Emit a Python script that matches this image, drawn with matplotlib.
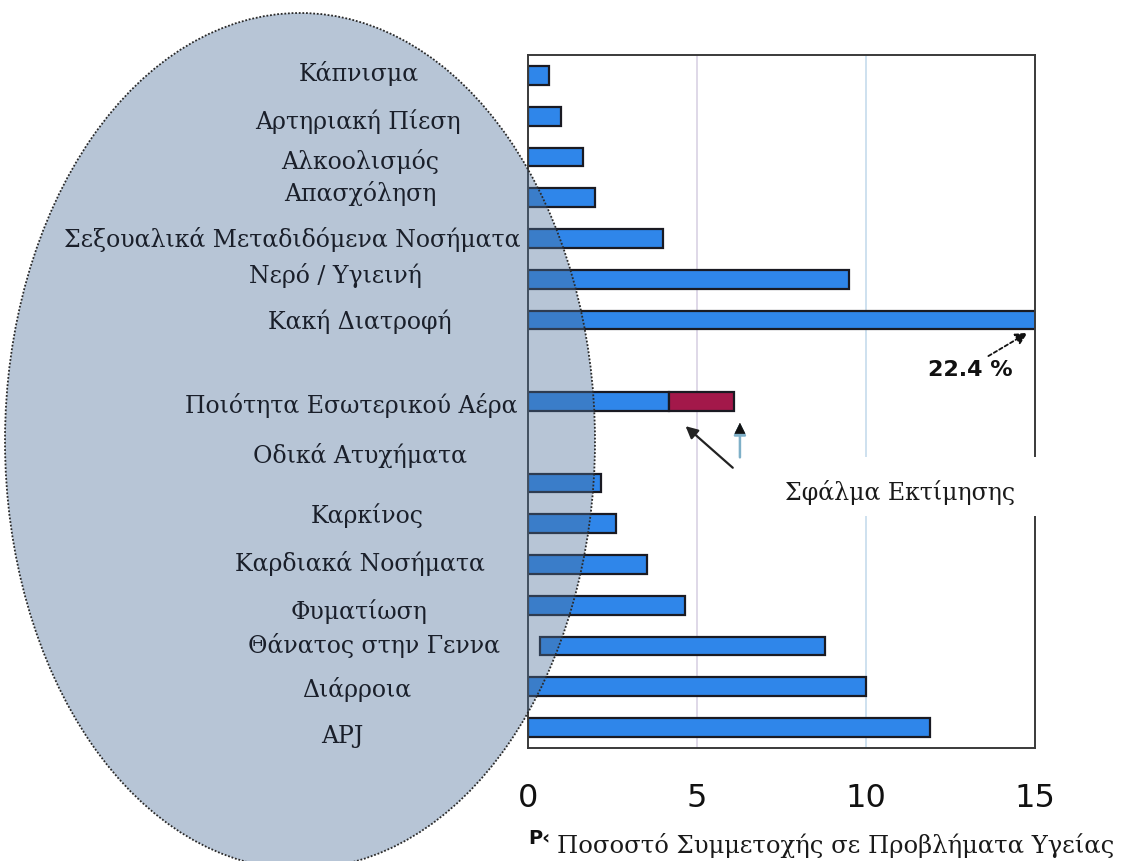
import matplotlib
matplotlib.use("Agg")
import matplotlib.pyplot as plt
from matplotlib.patches import Ellipse, Rectangle

# ---------------- data ----------------
categories = ["Κάπνισμα", "Αρτηριακή Πίεση", "Αλκοολισμός", "Απασχόληση",
              "Σεξουαλικά Μεταδιδόμενα Νοσήματα", "Νερό / Υγιεινή", "Κακή Διατροφή",
              "Ποιότητα Εσωτερικού Αέρα", "Οδικά Ατυχήματα", "Καρκίνος",
              "Καρδιακά Νοσήματα", "Φυματίωση", "Θάνατος στην Γεννα", "Διάρροια", "APJ"]
values = [0.62, 0.98, 1.63, 1.98, 4.0, 9.5, 22.4, 4.17, 2.16, 2.6, 3.52, 4.64, 8.8, 10.0, 11.9]
bar_start = [0, 0, 0, 0, 0, 0, 0, 0, 0, 0, 0, 0, 0.35, 0, 0]
error_part = [0, 0, 0, 0, 0, 0, 0, 1.93, 0, 0, 0, 0, 0, 0, 0]
x_ticks = [0, 5, 10, 15]
big_value_label = "22.4 %"
error_label = "Σφάλμα Εκτίμησης"
x_label = "Ποσοστό Συμμετοχής σε Προβλήματα Υγείας"

# ---------------- layout ----------------
bar_slots = [0, 1, 2, 3, 4, 5, 6, 8, 10, 11, 12, 13, 14, 15, 16]
label_px_x = [359, 358, 360, 360, 292, 335, 360, 351, 360, 367, 360, 359, 374, 357, 342]
label_px_y = [73, 122, 161, 193, 240, 276, 322, 405, 456, 516, 563, 612, 646, 689, 736]

W, H = 1125, 861
fig = plt.figure(figsize=(W / 100, H / 100), dpi=100)
ax = fig.add_axes([528 / W, 1 - 748 / H, (1035 - 528) / W, (748 - 55) / H])

serif = ["DejaVu Serif"]
blue = "#2f86ea"
red = "#a3184a"

widths = [v - s for v, s in zip(values, bar_start)]
ax.barh(bar_slots, widths, left=bar_start, height=0.46, color=blue,
        edgecolor="#1a1a22", linewidth=1.6, zorder=2)
ax.barh(bar_slots, error_part, left=values, height=0.46, color=red,
        edgecolor=["#1a1a22" if e > 0 else "none" for e in error_part],
        linewidth=1.6, zorder=2)

ax.set_xlim(0, 15)
ax.set_ylim(16.5, -0.5)
ax.set_yticks([])
ax.set_xticks(x_ticks)
ax.set_xticklabels([str(t) for t in x_ticks], fontsize=23, family="DejaVu Sans", color="#111111")
ax.tick_params(axis="x", length=0, pad=25)
for xg, c in [(5, "#d9d2e4"), (10, "#c6dcec")]:
    ax.axvline(xg, color=c, lw=1.2, zorder=0.5)
for sp in ax.spines.values():
    sp.set_color("#3a3a3a")
    sp.set_linewidth(1.4)

# 22.4 % annotation
ax.text(13.1, 7.22, big_value_label, fontsize=16, fontweight="bold",
        family="DejaVu Sans", ha="center", va="center", color="#111111", zorder=5)
ax.annotate("", xy=(14.85, 6.28), xytext=(13.55, 6.92),
            arrowprops=dict(arrowstyle="-|>", color="#111111", lw=1.3,
                            linestyle=(0, (2, 1.5)), mutation_scale=18), zorder=5,
            annotation_clip=False)

# error arrows
ax.annotate("", xy=(4.6, 8.56), xytext=(6.12, 9.67),
            arrowprops=dict(arrowstyle="-|>", color="#222222", lw=1.6, mutation_scale=18),
            zorder=5)
ax.annotate("", xy=(6.27, 8.52), xytext=(6.27, 9.37),
            arrowprops=dict(arrowstyle="-|>", color="#7fb0c8", lw=1.8, mutation_scale=18,
                            shrinkA=0, shrinkB=0), zorder=5)
ax.annotate("", xy=(6.27, 8.52), xytext=(6.27, 8.7),
            arrowprops=dict(arrowstyle="-|>", color="#111111", lw=0.5, mutation_scale=18,
                            shrinkA=0, shrinkB=0), zorder=5)

# white box with error label
ax.add_patch(Rectangle((7.16, 9.37), 8.2, 1.45, facecolor="white", edgecolor="none",
                       zorder=2.7, clip_on=False))
ax.text(11.0, 10.23, error_label, fontsize=17, family=serif, ha="center", va="center",
        color="#1a1a1a", zorder=6)

# overlay ellipse
ell = Ellipse((300 / W, 1 - 441 / H), 590 / W, 856 / H, transform=fig.transFigure,
              facecolor=(0.30, 0.44, 0.60, 0.40), edgecolor="#2a2a2a",
              linestyle=(0, (1, 1)), linewidth=1.3, clip_on=False, zorder=4)
ax.add_patch(ell)

# category labels
for name, px, py in zip(categories, label_px_x, label_px_y):
    fig.text(px / W, 1 - py / H, name, fontsize=17, family=serif, ha="center",
             va="center", color="#1a1f2a")

# x label (remnant of an older label at its left)
fig.text(528 / W, 1 - 838 / H, "P\u2039", fontsize=14, fontweight="bold",
         family="DejaVu Sans", ha="left", va="center", color="#111111")
fig.text(557 / W, 1 - 846 / H, x_label, fontsize=17.5, family=serif, ha="left",
         va="center", color="#1a1a1a")

fig.savefig("out.png", dpi=100)
